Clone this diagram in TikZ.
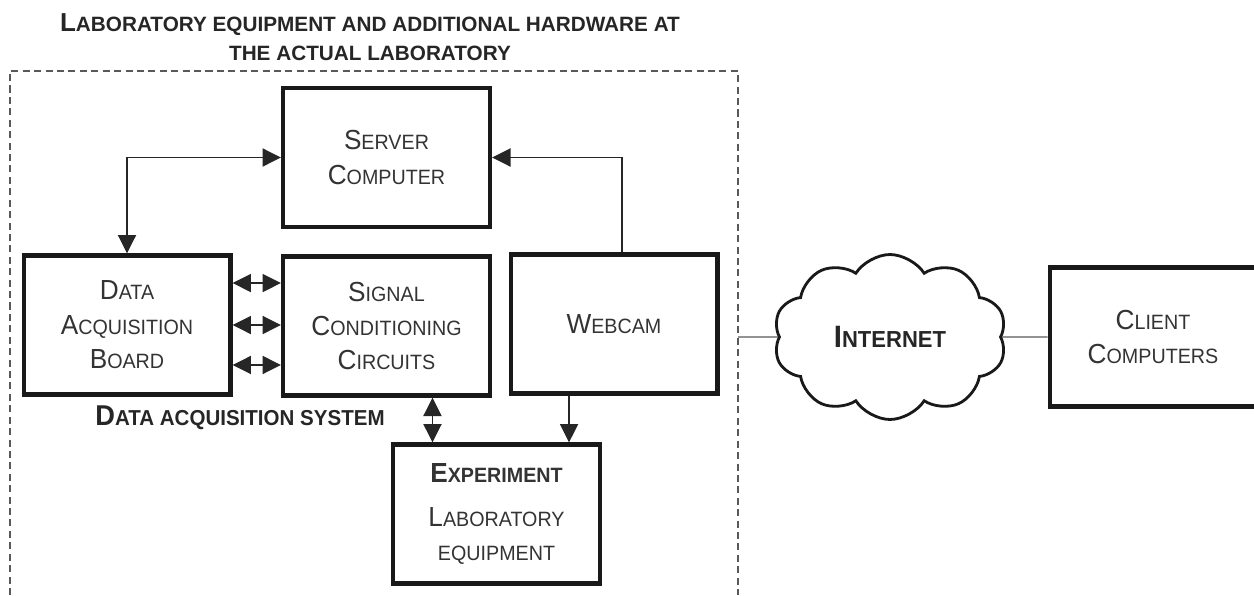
\documentclass[tikz,border=0pt]{standalone}
\usepackage{fontspec}
\setmainfont[FakeStretch=0.95]{Liberation Sans}
\newfontfamily\titlefont{Liberation Sans}
\usetikzlibrary{shapes.symbols,arrows.meta}

% first letter large, the rest as small capitals
\newcommand{\smcap}[3][15.7]{{\fontsize{#1}{19.6}\selectfont #2}#3}

\begin{document}
\begin{tikzpicture}[x=0.02cm,y=-0.02cm,
	box/.style={draw=black!90, line width=2.3pt, minimum width=4.14cm, minimum height=2.78cm,
		align=center, inner sep=0pt, text=black!80, font=\fontsize{11.8}{19.6}\selectfont},
	lbl/.style={align=center, inner sep=0pt, text=black!85, font=\bfseries\fontsize{12.3}{19.6}\selectfont},
	arr/.style={line width=1.1pt, draw=black!85, -{Triangle[length=0.37cm,width=0.36cm]}},
	biarr/.style={line width=1.1pt, draw=black!85,
		{Triangle[length=0.37cm,width=0.36cm]}-{Triangle[length=0.37cm,width=0.36cm]}},
	link/.style={line width=0.8pt, draw=black!65},
	frame/.style={line width=0.6pt, draw=black!65, dash pattern=on 4pt off 2.5pt}]

	\useasboundingbox (0,0) rectangle (1254,595);

	% title and frame of the laboratory side
	\node[lbl, font=\titlefont\bfseries\fontsize{11.8}{16.5}\selectfont] (title) at (370,37)
		{\smcap[14.8]{L}{ABORATORY EQUIPMENT AND ADDITIONAL HARDWARE AT}\\THE ACTUAL LABORATORY};
	\draw[frame] (10,595) |- (738,71) -- (738,595);

	% boxes
	\node[box] (server) at (386.5,157.5) {\smcap{S}{ERVER}\\\smcap{C}{OMPUTER}};
	\node[box] (daq) at (127,325) {\smcap{D}{ATA}\\\smcap{A}{CQUISITION}\\\smcap{B}{OARD}};
	\node[box] (signal) at (386.5,326) {\smcap{S}{IGNAL}\\\smcap{C}{ONDITIONING}\\\smcap{C}{IRCUITS}};
	\node[box] (webcam) at (614,324) {\smcap{W}{EBCAM}};
	\node[box] (exp) at (496.5,514)
		{{\bfseries\smcap{E}{XPERIMENT}}\\[0.2cm]\smcap{L}{ABORATORY}\\EQUIPMENT};
	\node[box] (client) at (1153,337) {\smcap{C}{LIENT}\\\smcap{C}{OMPUTERS}};

	\node[lbl] (das) at (240,418) {\smcap[16.3]{D}{ATA ACQUISITION SYSTEM}};

	\node[cloud, draw=black!90, line width=1.6pt, cloud puffs=10, cloud puff arc=115,
		cloud ignores aspect, minimum width=4.66cm, minimum height=3.3cm,
		text=black!85, font=\bfseries\fontsize{13.2}{19.6}\selectfont] (net) at (890,337)
		{\smcap[17.6]{I}{NTERNET}};

	% connections
	\draw[biarr] (daq.north) |- (server.west);
	\draw[arr] ([xshift=0.16cm]webcam.north) |- (server.east);
	\draw[biarr] ([yshift=0.84cm]daq.east) -- ([yshift=0.84cm]daq.east -| signal.west);
	\draw[biarr] (daq.east) -- (daq.east -| signal.west);
	\draw[biarr] ([yshift=-0.8cm]daq.east) -- ([yshift=-0.8cm]daq.east -| signal.west);
	\draw[biarr] ([xshift=0.92cm]signal.south) -- ([xshift=0.92cm]signal.south |- exp.north);
	\draw[arr] ([xshift=-0.9cm]webcam.south) -- ([xshift=-0.9cm]webcam.south |- exp.north);

	\coordinate (edge) at (738,337);
	\draw[link] (edge) -- (net);
	\draw[link] (net) -- (client);

\end{tikzpicture}
\end{document}
